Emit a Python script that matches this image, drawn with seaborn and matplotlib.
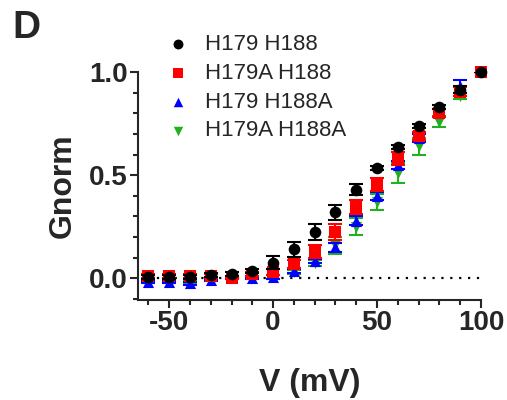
import matplotlib
matplotlib.use("Agg")
import matplotlib.pyplot as plt
import seaborn as sns
import numpy as np
import pandas as pd
from matplotlib.ticker import MultipleLocator

sns.set_theme(style="ticks")
plt.rcParams['font.family'] = ['Liberation Sans', 'DejaVu Sans']

V = [-60, -50, -40, -30, -20, -10, 0, 10, 20, 30, 40, 50, 60, 70, 80, 90, 100]

labels = ["H179 H188", "H179A H188", "H179 H188A", "H179A H188A"]

wt = [0.005, 0.005, 0.005, 0.015, 0.02, 0.035, 0.075, 0.14, 0.225, 0.32, 0.43, 0.535, 0.636, 0.74, 0.83, 0.915, 1.0]
wt_err = [0.01, 0.01, 0.01, 0.01, 0.01, 0.01, 0.032, 0.037, 0.039, 0.037, 0.028, 0.01, 0.01, 0.01, 0.01, 0.015, 0.0]

h179a = [0.01, 0.01, 0.01, 0.01, 0.0, 0.02, 0.03, 0.07, 0.13, 0.225, 0.345, 0.455, 0.58, 0.69, 0.80, 0.905, 1.0]
h179a_err = [0.01, 0.01, 0.01, 0.01, 0.005, 0.01, 0.015, 0.02, 0.03, 0.04, 0.035, 0.03, 0.03, 0.02, 0.02, 0.02, 0.0]

h188a = [-0.02, -0.02, -0.025, -0.01, 0.0, 0.0, 0.005, 0.035, 0.085, 0.15, 0.28, 0.40, 0.55, 0.68, 0.80, 0.93, 1.0]
h188a_err = [0.005, 0.005, 0.005, 0.005, 0.005, 0.005, 0.01, 0.01, 0.01, 0.02, 0.02, 0.02, 0.02, 0.02, 0.02, 0.03, 0.0]

dbl = [-0.015, -0.015, -0.02, -0.005, 0.0, 0.0, 0.005, 0.03, 0.075, 0.16, 0.25, 0.37, 0.51, 0.64, 0.76, 0.885, 1.0]
dbl_err = [0.005, 0.005, 0.005, 0.005, 0.005, 0.005, 0.01, 0.01, 0.015, 0.04, 0.04, 0.04, 0.05, 0.04, 0.025, 0.015, 0.0]

colors = ["black", "#FF0000", "#0000FF", "#20B020"]
markers = ["o", "s", "^", "v"]
sizes = [70, 64, 64, 64]

series = [(wt, wt_err), (h179a, h179a_err), (h188a, h188a_err), (dbl, dbl_err)]

fig = plt.figure(figsize=(5.07, 4.0), dpi=100)
ax = fig.add_axes([138/507, 1-300/400, 343/507, 228/400])

ax.hlines(0, V[0], V[-1], colors="black", linewidth=1.6, linestyles=(0, (1, 3)), zorder=1)

for i in reversed(range(4)):
    y, e = series[i]
    z = 10 - 2 * i
    ax.errorbar(V, y, yerr=e, fmt="none", ecolor=colors[i], elinewidth=1.5,
                capsize=5, capthick=1.5, zorder=z)
    df = pd.DataFrame({"V": V, "G": y})
    sns.scatterplot(data=df, x="V", y="G", ax=ax, marker=markers[i], color=colors[i],
                    s=sizes[i], linewidth=0, label=labels[i], zorder=z + 1, clip_on=False)

h, l = ax.get_legend_handles_labels()
order = [l.index(lab) for lab in labels]
if ax.get_legend():
    ax.get_legend().remove()
fig.legend([h[k] for k in order], [l[k] for k in order], loc="upper left",
           bbox_to_anchor=(167/507, 1-34/400), frameon=False, fontsize=16,
           handlelength=1.0, handletextpad=0.7, labelspacing=0.35,
           borderpad=0, borderaxespad=0, markerscale=0.85)

ax.set_xlim(-65, 100)
ax.set_ylim(-0.105, 1.0)
ax.xaxis.set_minor_locator(MultipleLocator(10))
ax.yaxis.set_minor_locator(MultipleLocator(0.1))
ax.set_yticks([0.0, 0.5, 1.0])
ax.set_yticklabels(["0.0", "0.5", "1.0"])
ax.set_xticks([-50, 0, 50, 100])
ax.set_xticklabels(["-50", "0", "50", "100"])

for s in ["top", "right"]:
    ax.spines[s].set_visible(False)
for s in ["left", "bottom"]:
    ax.spines[s].set_linewidth(1.5)
ax.tick_params(which="major", length=5.5, width=1.5, labelsize=20, pad=2)
ax.tick_params(which="minor", length=3.5, width=1.5)
for lab in ax.get_xticklabels() + ax.get_yticklabels():
    lab.set_fontweight("bold")

ax.set_xlabel("V (mV)", fontsize=23, fontweight="bold", labelpad=23)
ax.set_ylabel("Gnorm", fontsize=23, fontweight="bold", labelpad=8)
ax.set_facecolor("white")

fig.text(12/507, 1-28/400, "D", fontsize=28, fontweight="bold", va="center", ha="left")

fig.savefig("out.png", dpi=100, facecolor="white")
